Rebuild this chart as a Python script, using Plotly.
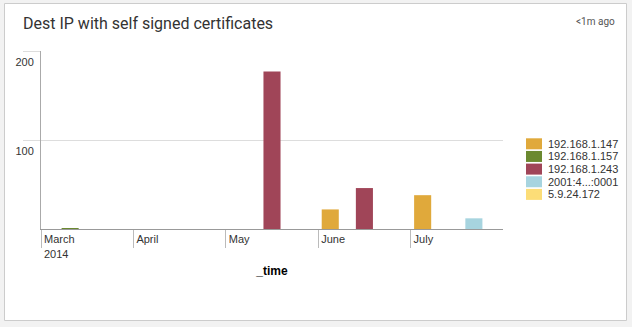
import plotly.graph_objects as go

# ---- data ----
months = ["March<br>2014", "April", "May", "June", "July"]
series_names = ["192.168.1.147", "192.168.1.157", "192.168.1.243", "2001:4...:0001", "5.9.24.172"]
series_colors = ["#E0A93B", "#6B8930", "#A04558", "#A7D4DF", "#FCDD77"]
# counts per month (March..July), None = no bar
series_values = [
    [None, None, None, 22, 38],      # 192.168.1.147
    [1, None, None, None, None],      # 192.168.1.157
    [None, None, 177, 46, None],      # 192.168.1.243
    [None, None, None, None, 12],     # 2001:4...:0001
    [None, None, None, None, None],   # 5.9.24.172
]
y_ticks = [100, 200]

W, H = 632, 327
L, R, T, B = 41, 503, 51, 229  # plot area in px


def px_x(px):
    return (px - L) / (R - L)


def px_y(py):
    return (B - py) / (B - T)


fig = go.Figure()
xpos = [i + 0.5 for i in range(len(months))]
for name, color, vals in zip(series_names, series_colors, series_values):
    fig.add_trace(go.Bar(x=xpos, y=vals, name=name, showlegend=False,
                         marker=dict(color=color, line=dict(width=0))))

shapes = [dict(type="rect", xref="paper", yref="paper", layer="below",
               x0=px_x(4.5), x1=px_x(626.5), y0=px_y(320.5), y1=px_y(3.5),
               line=dict(color="#cccccc", width=1), fillcolor="#ffffff")]
annotations = [
    dict(text="Dest IP with self signed certificates", xref="paper", yref="paper",
         x=px_x(21), y=px_y(23), xanchor="left", yanchor="middle", showarrow=False,
         font=dict(family="Roboto, sans-serif", size=16, color="#333333")),
    dict(text="<1m ago", xref="paper", yref="paper",
         x=px_x(617), y=px_y(22), xanchor="right", yanchor="middle", showarrow=False,
         font=dict(family="Roboto, sans-serif", size=10, color="#555555")),
]

# legend (drawn from the series lists)
leg_top, leg_step = 138.3, 12.65
for i, (name, color) in enumerate(zip(series_names, series_colors)):
    y0 = leg_top + i * leg_step
    shapes.append(dict(type="rect", xref="paper", yref="paper",
                       x0=px_x(526), x1=px_x(542), y0=px_y(y0 + 11), y1=px_y(y0),
                       line=dict(width=0), fillcolor=color))
    annotations.append(dict(text=name, xref="paper", yref="paper", showarrow=False,
                            x=px_x(546), y=px_y(y0 + 5.5), xanchor="left", yanchor="middle",
                            font=dict(size=11, color="#333333")))

fig.update_layout(
    width=W, height=H,
    margin=dict(l=L, r=W - R, t=T, b=H - B, autoexpand=False),
    paper_bgcolor="#f2f2f2",
    plot_bgcolor="#ffffff",
    barmode="group", bargap=0.076, bargroupgap=0,
    font=dict(family="Liberation Sans, Arial, sans-serif", size=11, color="#333333"),
    showlegend=False,
    xaxis=dict(range=[0, 5], tickmode="array", tickvals=list(range(len(months))), ticktext=months,
               ticks="outside", ticklen=18, tickcolor="#bbbbbb", tickwidth=1,
               ticklabelposition="outside right", ticklabelshift=2,
               showline=True, linecolor="#999999", linewidth=1, showgrid=False, zeroline=False,
               title=dict(text="<b>_time</b>", font=dict(size=12, color="#000000"), standoff=8),
               fixedrange=True),
    yaxis=dict(range=[0, 200], tickmode="array", tickvals=y_ticks,
               ticks="outside", ticklen=17, tickcolor="#dddddd", tickwidth=1,
               ticklabelposition="outside bottom", ticklabelstandoff=4, ticklabelshift=3,
               showgrid=True, gridcolor="#dddddd", gridwidth=1,
               showline=True, linecolor="#aaaaaa", linewidth=1, zeroline=False,
               fixedrange=True),
    shapes=shapes,
    annotations=annotations,
)

fig.write_html("out.html")
